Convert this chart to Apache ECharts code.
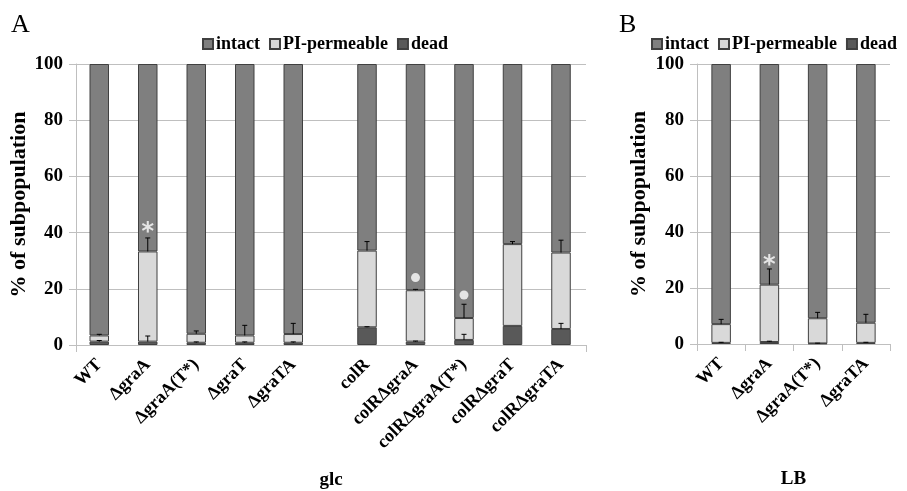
<!DOCTYPE html>
<html>
<head>
<meta charset="utf-8">
<script src="https://cdn.jsdelivr.net/npm/echarts@6/dist/echarts.min.js"></script>
<style>
  html, body { margin: 0; padding: 0; background: #fff; }
  #chart { width: 907px; height: 491px; }
</style>
</head>
<body>
<div id="chart"></div>
<script>
// panel A, glucose: two groups of strains
const catA1 = ['WT', 'ΔgraA', 'ΔgraA(T*)', 'ΔgraT', 'ΔgraTA'];
const catA2 = ['colR', 'colRΔgraA', 'colRΔgraA(T*)', 'colRΔgraT', 'colRΔgraTA'];
// panel B, LB
const catB = ['WT', 'ΔgraA', 'ΔgraA(T*)', 'ΔgraTA'];

const deadA1 = [1.2, 1.2, 0.8, 0.8, 0.8];
const permA1 = [2.2, 32.1, 3.2, 2.6, 3.1];
const intactA1 = [96.6, 66.7, 96.0, 96.6, 96.1];
const deadErrA1 = [0.4, 2.0, 0.3, 0.3, 0.3];
const permErrA1 = [0.4, 4.8, 1.0, 3.6, 3.8];

const deadA2 = [6.3, 1.2, 1.8, 6.8, 5.7];
const permA2 = [27.3, 18.3, 7.8, 29.1, 27.2];
const intactA2 = [66.4, 80.5, 90.4, 64.1, 67.1];
const deadErrA2 = [0.2, 0.2, 2.0, 0, 2.0];
const permErrA2 = [3.2, 0.3, 4.9, 0.9, 4.4];

const deadB = [0.4, 0.7, 0.2, 0.4];
const permB = [6.7, 20.5, 9.0, 7.2];
const intactB = [92.9, 78.8, 90.8, 92.4];
const deadErrB = [0.2, 0.3, 0.1, 0.2];
const permErrB = [1.7, 5.6, 2.1, 3.0];

// significance marks (y position in %)
const starA1 = ['-', 42.4, '-', '-', '-'];
const dotA2 = ['-', 24.0, 17.8, '-', '-'];
const starB = ['-', 30.4, '-', '-'];

const FONT = 'Liberation Serif';
const C_INTACT = '#7f7f7f';
const C_PERM = '#d9d9d9';
const C_DEAD = '#595959';
const C_EDGE = '#404040';
const C_GRID = '#bfbfbf';

const chart = echarts.init(document.getElementById('chart'));

const TOP = 64;
const gridBase = { top: TOP, height: 281, outerBoundsMode: 'none', containLabel: false };
const grids = [
  Object.assign({ left: 76, width: 510 }, gridBase),      // A background (axes, grid lines)
  Object.assign({ left: 75, width: 242.5 }, gridBase),    // A group 1
  Object.assign({ left: 342.75, width: 242.5 }, gridBase),// A group 2
  Object.assign({ left: 697, width: 193 }, gridBase, { height: 280 }) // B
];

const labelStyle = { fontFamily: FONT, fontWeight: 'bold', fontSize: 18, color: '#000' };

function valueAxis(idx, shown, gap) {
  return {
    gridIndex: idx, type: 'value', min: 0, max: 100, interval: 20,
    show: true,
    name: shown ? '% of subpopulation' : '',
    nameLocation: 'middle', nameGap: gap || 47, nameMoveOverlap: false,
    nameTextStyle: { fontFamily: FONT, fontWeight: 'bold', fontSize: 22, color: '#000' },
    axisLine: { show: shown, lineStyle: { color: C_GRID } },
    axisTick: { show: shown, length: 7, lineStyle: { color: C_GRID } },
    axisLabel: Object.assign({ show: shown, margin: 13 }, labelStyle, { fontSize: 19 }),
    splitLine: { show: shown, lineStyle: { color: C_GRID, width: 1 } }
  };
}

function catAxis(idx, data, name) {
  return {
    gridIndex: idx, type: 'category', data: data,
    name: name || '', nameLocation: 'middle', nameGap: 126,
    nameTextStyle: { fontFamily: FONT, fontWeight: 'bold', fontSize: 19, color: '#000' },
    axisLine: { show: !!name || idx === 0, lineStyle: { color: C_GRID } },
    axisTick: { show: idx === 0 || idx === 3, length: 7, lineStyle: { color: C_GRID } },
    axisLabel: Object.assign({ show: idx !== 0, rotate: 45, margin: 17, interval: 0 }, labelStyle)
  };
}

function errItem(params, api) {
  const base = api.coord([api.value(0), api.value(1)]);
  const top = api.coord([api.value(0), api.value(2)]);
  const st = { stroke: '#000', lineWidth: 1 };
  return {
    type: 'group',
    children: [
      { type: 'line', shape: { x1: base[0], y1: base[1], x2: top[0], y2: top[1] }, style: st },
      { type: 'line', shape: { x1: top[0] - 2.5, y1: top[1], x2: top[0] + 2.5, y2: top[1] }, style: st }
    ]
  };
}

function panelSeries(g, dead, perm, intact, deadErr, permErr) {
  const common = { type: 'bar', xAxisIndex: g, yAxisIndex: g, stack: 's' + g, barWidth: 19.5 };
  const edge = { borderColor: C_EDGE, borderWidth: 1 };
  const errData = [];
  dead.forEach(function (d, i) {
    if (deadErr[i] > 0) errData.push([i, d, d + deadErr[i]]);
    const s = d + perm[i];
    errData.push([i, s, s + permErr[i]]);
  });
  return [
    Object.assign({ name: 'dead', data: dead, itemStyle: Object.assign({ color: C_DEAD }, edge) }, common),
    Object.assign({ name: 'PI-permeable', data: perm, itemStyle: Object.assign({ color: C_PERM }, edge) }, common),
    Object.assign({ name: 'intact', data: intact, itemStyle: Object.assign({ color: C_INTACT }, edge) }, common),
    { type: 'custom', xAxisIndex: g, yAxisIndex: g, renderItem: errItem, data: errData, z: 5, silent: true }
  ];
}

function starSeries(g, data) {
  return {
    type: 'scatter', xAxisIndex: g, yAxisIndex: g, data: data, symbolSize: 1, z: 6, silent: true,
    itemStyle: { color: 'rgba(0,0,0,0)' },
    label: { show: true, position: 'inside', formatter: '*', fontFamily: 'DejaVu Sans', fontWeight: 'bold',
      fontSize: 24, color: '#fff', offset: [0, 7] }
  };
}

const legendCommon = {
  data: ['intact', 'PI-permeable', 'dead'],
  icon: 'rect', itemWidth: 10, itemHeight: 10, itemGap: 9,
  textStyle: { fontFamily: FONT, fontWeight: 'bold', fontSize: 18, color: '#000', padding: [0, 0, 0, -2] },
  selectedMode: false
};

const option = {
  animation: false,
  grid: grids,
  legend: [
    Object.assign({ left: 197, top: 30 }, legendCommon),
    Object.assign({ left: 646, top: 30 }, legendCommon)
  ],
  graphic: [
    { type: 'text', left: 11, top: 12, style: { text: 'A', font: '26px "Liberation Serif"', fill: '#000' } },
    { type: 'text', left: 619, top: 12, style: { text: 'B', font: '26px "Liberation Serif"', fill: '#000' } }
  ],
  xAxis: [
    catAxis(0, [''], 'glc'),
    catAxis(1, catA1),
    catAxis(2, catA2),
    catAxis(3, catB, 'LB')
  ],
  yAxis: [valueAxis(0, true, 46), valueAxis(1, false), valueAxis(2, false), valueAxis(3, true, 47)],
  series: [].concat(
    panelSeries(1, deadA1, permA1, intactA1, deadErrA1, permErrA1),
    panelSeries(2, deadA2, permA2, intactA2, deadErrA2, permErrA2),
    panelSeries(3, deadB, permB, intactB, deadErrB, permErrB),
    [
      starSeries(1, starA1),
      starSeries(3, starB),
      { type: 'scatter', xAxisIndex: 2, yAxisIndex: 2, data: dotA2, symbol: 'circle', symbolSize: 9, z: 6,
        silent: true, itemStyle: { color: '#fff' } }
    ]
  )
};

chart.setOption(option);
</script>
</body>
</html>
